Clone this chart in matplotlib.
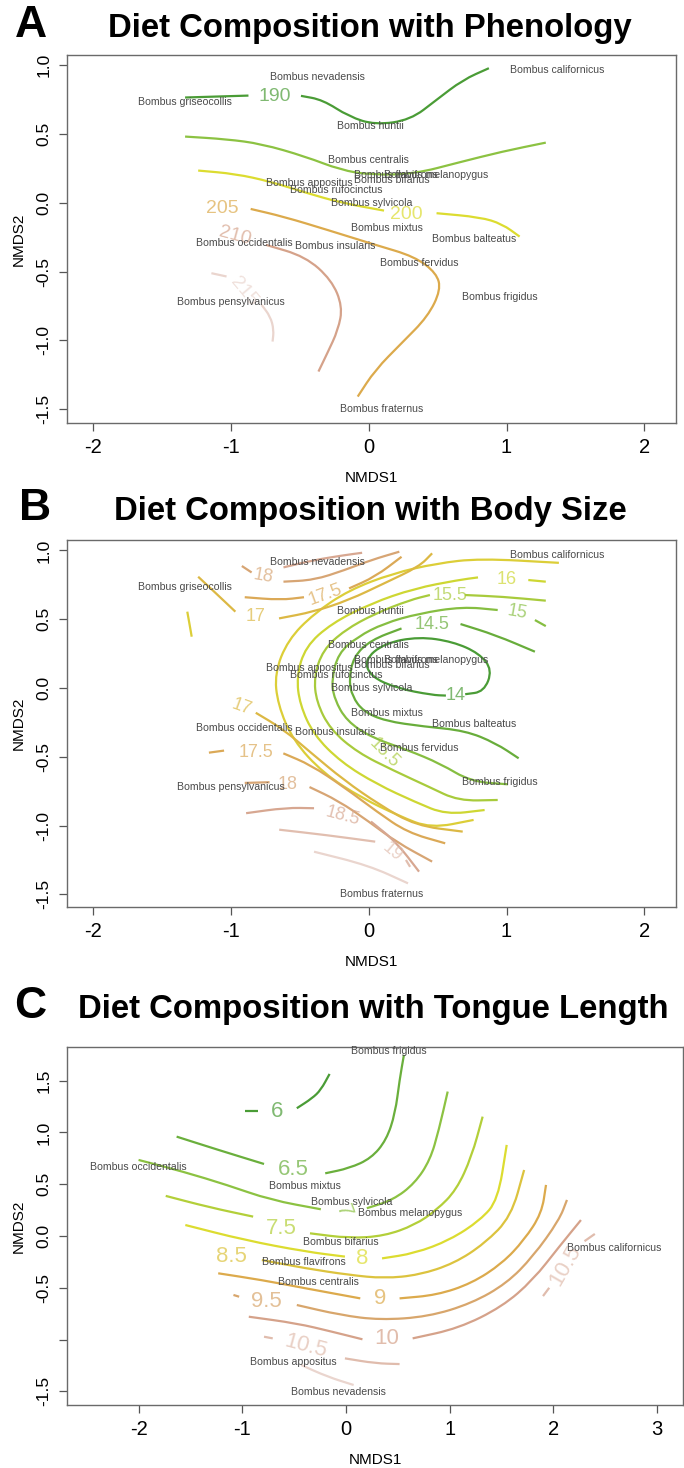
import matplotlib
matplotlib.use("Agg")
import matplotlib.pyplot as plt
from matplotlib.colors import LinearSegmentedColormap
from matplotlib.path import Path
from matplotlib.patches import PathPatch

plt.rcParams['font.family'] = ['Liberation Sans', 'DejaVu Sans']

# ---------------- species scores (NMDS) ----------------
species_AB = ["Bombus californicus", "Bombus nevadensis", "Bombus griseocollis", "Bombus huntii",
              "Bombus centralis", "Bombus flavifrons", "Bombus melanopygus", "Bombus appositus",
              "Bombus bifarius", "Bombus rufocinctus", "Bombus sylvicola", "Bombus mixtus",
              "Bombus balteatus", "Bombus occidentalis", "Bombus insularis", "Bombus fervidus",
              "Bombus frigidus", "Bombus pensylvanicus", "Bombus fraternus"]
nmds1_AB = [1.365, -0.375, -1.333, 0.012, -0.005, 0.20, 0.49, -0.429, 0.17, -0.238, 0.023, 0.134,
            0.762, -0.905, -0.247, 0.365, 0.952, -1.003, 0.092]
nmds2_AB = [0.967, 0.918, 0.732, 0.560, 0.313, 0.205, 0.205, 0.148, 0.167, 0.094, -0.002, -0.184,
            -0.264, -0.293, -0.317, -0.434, -0.681, -0.717, -1.50]

species_C = ["Bombus frigidus", "Bombus occidentalis", "Bombus mixtus", "Bombus sylvicola",
             "Bombus melanopygus", "Bombus bifarius", "Bombus californicus", "Bombus flavifrons",
             "Bombus centralis", "Bombus appositus", "Bombus nevadensis"]
nmds1_C = [0.411, -2.0, -0.398, 0.053, 0.622, -0.052, 2.582, -0.41, -0.263, -0.508, -0.073]
nmds2_C = [1.789, 0.669, 0.483, 0.331, 0.225, -0.055, -0.119, -0.248, -0.441, -1.213, -1.509]

# ---------------- fitted surface contours ----------------
levels_A = [190, 195, 200, 205, 210, 215]
contours_A = [
    (190, [-1.333, -0.873], [0.766, 0.780]),
    (190, [-0.492, -0.334, -0.143, 0.047, 0.302, 0.492, 0.682, 0.872],
          [0.778, 0.749, 0.627, 0.567, 0.603, 0.749, 0.894, 0.979]),
    (195, [-1.333, -1.031, -0.778, -0.46, -0.206, 0.016, 0.333, 0.650, 0.968, 1.285],
          [0.482, 0.463, 0.429, 0.337, 0.240, 0.203, 0.211, 0.293, 0.373, 0.438]),
    (200, [-1.238, -0.968, -0.714, -0.46, -0.206, 0.111],
          [0.235, 0.211, 0.155, 0.075, 0.002, -0.056]),
    (200, [0.492, 0.809, 0.968, 1.095], [-0.075, -0.104, -0.153, -0.245]),
    (205, [-0.857, -0.619, -0.301, 0.047, 0.333, 0.492, 0.523, 0.429, 0.238, 0.047, -0.08],
          [-0.044, -0.100, -0.196, -0.305, -0.390, -0.511, -0.632, -0.826, -1.020, -1.214, -1.408]),
    (210, [-0.746, -0.46, -0.270, -0.190, -0.222, -0.301, -0.365],
          [-0.305, -0.390, -0.560, -0.753, -0.923, -1.093, -1.226]),
    (215, [-1.142, -1.032], [-0.511, -0.535]),
    (215, [-0.778, -0.714, -0.689, -0.698], [-0.741, -0.826, -0.923, -1.008]),
]
labels_A = [("190", -0.683, 0.773, 0), ("205", -1.063, -0.039, 0), ("210", -0.968, -0.24, -15),
            ("200", 0.27, -0.087, 0), ("215", -0.905, -0.645, -50)]

levels_B = [14, 14.5, 15, 15.5, 16, 16.5, 17, 17.5, 18, 18.5, 19, 19.5]
contours_B = [
    (14, [0.70, 0.836, 0.897, 0.802, 0.610, 0.365, 0.112, -0.032, 0.016, 0.206, 0.460, 0.56],
         [-0.045, -0.027, 0.131, 0.252, 0.337, 0.373, 0.325, 0.204, 0.082, -0.002, -0.051, -0.055]),
    (14.5, [0.666, 0.92, 1.206], [0.465, 0.385, 0.264]),
    (14.5, [0.238, 0.016, -0.111, -0.143, -0.12, -0.04, 0.12, 0.40, 0.70, 0.92, 1.088],
           [0.433, 0.349, 0.228, 0.058, -0.06, -0.17, -0.24, -0.28, -0.31, -0.40, -0.511]),
    (15, [1.206, 1.285], [0.494, 0.45]),
    (15, [0.936, 0.682, 0.365, 0.11, -0.08, -0.222, -0.27, -0.25, -0.16, 0.02, 0.28, 0.52, 0.74, 1.01],
         [0.567, 0.591, 0.542, 0.47, 0.373, 0.252, 0.058, -0.08, -0.24, -0.36, -0.45, -0.55, -0.68, -0.70]),
    (15.5, [0.698, 0.968, 1.285], [0.676, 0.664, 0.635]),
    (15.5, [0.444, 0.3, 0.047, -0.175, -0.333, -0.397, -0.38, -0.28, -0.08, 0.18, 0.44, 0.65, 0.936],
           [0.676, 0.64, 0.542, 0.421, 0.276, 0.082, -0.1, -0.30, -0.47, -0.60, -0.72, -0.82, -0.814]),
    (16, [1.158, 1.285], [0.785, 0.773]),
    (16, [0.793, 0.65, 0.333, 0.016, -0.27, -0.46, -0.524, -0.50, -0.40, -0.20, 0.06, 0.34, 0.56, 0.841],
         [0.804, 0.785, 0.724, 0.615, 0.47, 0.30, 0.082, -0.12, -0.34, -0.54, -0.70, -0.83, -0.92, -0.887]),
    (16.5, [1.38, 0.809, 0.492, 0.174, -0.143, -0.397, -0.587, -0.683, -0.66, -0.55, -0.33, -0.05, 0.22, 0.45, 0.761],
           [0.91, 0.942, 0.906, 0.833, 0.712, 0.542, 0.349, 0.107, -0.12, -0.38, -0.62, -0.80, -0.93, -1.02, -0.959]),
    (16.5, [-1.317, -1.30, -1.285], [0.555, 0.46, 0.373]),
    (17, [-1.238, -1.10, -0.968], [0.809, 0.68, 0.555]),
    (17, [-0.651, -0.397, -0.143, 0.11, 0.365, 0.46], [0.506, 0.555, 0.64, 0.76, 0.882, 0.979]),
    (17, [-0.82, -0.62, -0.42, -0.18, 0.08, 0.34, 0.682], [-0.18, -0.30, -0.47, -0.67, -0.85, -1.0, -1.044]),
    (17.5, [-0.90, -0.64, -0.47], [0.66, 0.64, 0.66]),
    (17.5, [-0.143, 0.047, 0.238], [0.724, 0.809, 0.954]),
    (17.5, [-1.16, -1.05], [-0.47, -0.455]),
    (17.5, [-0.62, -0.42, -0.18, 0.06, 0.28, 0.555], [-0.475, -0.56, -0.72, -0.90, -1.05, -1.129]),
    (18, [-0.921, -0.85], [0.887, 0.84]),
    (18, [-0.619, -0.397, -0.175, 0.016, 0.222], [0.773, 0.785, 0.857, 0.93, 0.991]),
    (18, [-0.90, -0.72], [-0.69, -0.685]),
    (18, [-0.43, -0.22, 0.0, 0.2, 0.46], [-0.72, -0.82, -0.97, -1.12, -1.262]),
    (18.5, [-0.619, -0.397, -0.175, -0.048], [0.877, 0.93, 0.966, 0.983]),
    (18.5, [-0.89, -0.60, -0.397], [-0.91, -0.87, -0.874]),
    (18.5, [0.016, 0.2, 0.365], [-0.971, -1.12, -1.335]),
    (19, [-0.65, -0.3, 0.047], [-1.03, -1.07, -1.117]),
    (19, [0.27, 0.30], [-1.25, -1.30]),
    (19.5, [-0.397, 0.0, 0.285], [-1.19, -1.29, -1.42]),
]
labels_B = [("14", 0.634, -0.051, 0), ("14.5", 0.46, 0.465, 0), ("15", 1.079, 0.547, -10),
            ("15.5", 0.587, 0.676, 0), ("16", 1.0, 0.79, 0), ("17", -0.825, 0.518, 0),
            ("17", -0.92, -0.136, -20), ("17.5", -0.318, 0.676, 20), ("17.5", -0.82, -0.47, 0),
            ("18", -0.762, 0.809, -10), ("18", -0.587, -0.705, 0), ("18.5", -0.19, -0.935, -15),
            ("19", 0.174, -1.19, -40), ("15.5", 0.11, -0.475, -45)]

levels_C = [6, 6.5, 7, 7.5, 8, 8.5, 9, 9.5, 10, 10.5, 11]
contours_C = [
    (6, [-0.971, -0.853], [1.210, 1.210]),
    (6, [-0.474, -0.326, -0.242, -0.158], [1.233, 1.329, 1.410, 1.564]),
    (6.5, [-1.633, -1.232, -0.790], [0.959, 0.831, 0.695]),
    (6.5, [-0.200, 0.032, 0.243, 0.390, 0.475, 0.517, 0.559], [0.605, 0.654, 0.750, 0.927, 1.185, 1.506, 1.748]),
    (7, [-2.0, -1.570, -1.148, -0.727, -0.242], [0.734, 0.621, 0.493, 0.348, 0.258]),
    (7, [0.201, 0.454, 0.664, 0.812, 0.896, 0.981], [0.268, 0.348, 0.509, 0.734, 1.024, 1.394]),
    (7.5, [-1.738, -1.317, -0.895], [0.387, 0.277, 0.187]),
    (7.5, [-0.347, 0.032, 0.369, 0.664, 0.875, 1.065, 1.212, 1.318], [0.026, -0.022, 0.0, 0.106, 0.251, 0.444, 0.766, 1.152]),
    (8, [-1.549, -0.979, -0.389, -0.010], [0.106, -0.039, -0.151, -0.199]),
    (8, [0.348, 0.664, 1.002, 1.297, 1.465, 1.550], [-0.216, -0.167, -0.039, 0.154, 0.348, 0.879]),
    (8.5, [-0.811, -0.389, 0.032, 0.369, 0.706, 1.044, 1.339, 1.592, 1.718], [-0.232, -0.312, -0.376, -0.409, -0.376, -0.264, -0.071, 0.187, 0.637]),
    (9, [-1.232, -0.811, -0.389, 0.138], [-0.360, -0.425, -0.505, -0.602]),
    (9, [0.517, 0.875, 1.212, 1.507, 1.718, 1.887, 1.929], [-0.602, -0.570, -0.457, -0.264, -0.039, 0.219, 0.493]),
    (9.5, [-1.085, -1.030], [-0.569, -0.586]),
    (9.5, [-0.474, -0.052, 0.327, 0.791, 1.212, 1.550, 1.803, 2.056, 2.131], [-0.666, -0.763, -0.811, -0.779, -0.650, -0.457, -0.199, 0.154, 0.348]),
    (10, [-0.937, -0.474, -0.136, 0.159], [-0.779, -0.843, -0.923, -0.997]),
    (10, [0.643, 1.086, 1.507, 1.803, 2.056, 2.266], [-0.988, -0.891, -0.682, -0.425, -0.103, 0.154]),
    (10.5, [-0.790, -0.706], [-0.972, -0.988]),
    (10.5, [-0.010, 0.285, 0.517], [-1.181, -1.229, -1.236]),
    (10.5, [1.90, 1.96], [-0.58, -0.50]),
    (10.5, [2.30, 2.40], [-0.05, 0.02]),
    (11, [-0.432, -0.179, 0.074], [-1.245, -1.358, -1.438]),
]
labels_C = [("6", -0.663, 1.201, 0), ("6.5", -0.507, 0.637, 0), ("7", -0.03, 0.24, -70),
            ("7.5", -0.621, 0.074, 0), ("8", 0.159, -0.216, 0), ("8.5", -1.106, -0.199, 0),
            ("9", 0.327, -0.602, 0), ("9.5", -0.769, -0.634, 0), ("10", 0.390, -0.988, 0),
            ("10.5", -0.389, -1.068, -15), ("10.5", 2.12, -0.28, 60)]

# ---------------- panel settings ----------------
titles = ["Diet Composition with Phenology", "Diet Composition with Body Size",
          "Diet Composition with Tongue Length"]
letters = ["A", "B", "C"]
xticks_AB = [-2, -1, 0, 1, 2]
xticks_C = [-2, -1, 0, 1, 2, 3]
yticks_AB = [-1.5, -1.0, -0.5, 0.0, 0.5, 1.0]
yticks_C = [-1.5, -1.0, -0.5, 0.0, 0.5, 1.0, 1.5]
ytlabels_AB = ["-1.5", "-1.0", "-0.5", "0.0", "0.5", "1.0"]
ytlabels_C = ["-1.5", "", "-0.5", "0.0", "0.5", "1.0", "1.5"]

W, H = 684, 1468
fig = plt.figure(figsize=(W / 100, H / 100), dpi=100)

pal = LinearSegmentedColormap.from_list(
    "terr", ["#4a9c36", "#8cc242", "#dcdc30", "#dcaa4c", "#d5a28a", "#ead5ce"])


def px_axes(left, right, top, bottom):
    return fig.add_axes([left / W, 1 - bottom / H, (right - left) / W, (bottom - top) / H])


def smooth_path(xs, ys):
    pts = list(zip(xs, ys))
    if len(pts) < 3:
        return Path(pts)
    verts = [pts[0], ((pts[0][0] + pts[1][0]) / 2, (pts[0][1] + pts[1][1]) / 2)]
    codes = [Path.MOVETO, Path.LINETO]
    for i in range(1, len(pts) - 1):
        mid = ((pts[i][0] + pts[i + 1][0]) / 2, (pts[i][1] + pts[i + 1][1]) / 2)
        verts += [pts[i], mid]
        codes += [Path.CURVE3, Path.CURVE3]
    verts.append(pts[-1])
    codes.append(Path.LINETO)
    return Path(verts, codes)


def draw_panel(ax, levels, contours, labels, names, sx, sy, xlim, ylim, xt, yt, ytl,
               lab_fs, title, letter, title_y, letter_x, cx):
    n = len(levels)
    colmap = {lv: pal(i / (n - 1)) for i, lv in enumerate(levels)}
    for lv, xs, ys in contours:
        ax.add_patch(PathPatch(smooth_path(xs, ys), facecolor='none', edgecolor=colmap[lv],
                               lw=1.6, capstyle='butt', zorder=2))
    for txt, x, y, rot in labels:
        ax.text(x, y, txt, color=colmap[float(txt)], alpha=0.7, fontsize=lab_fs,
                rotation=rot, ha='center', va='center', zorder=3)
    for name, x, y in zip(names, sx, sy):
        ax.text(x, y, name, fontsize=7.6, color='#4a4a4a', ha='center', va='center', zorder=4)
    ax.set_xlim(*xlim)
    ax.set_ylim(*ylim)
    ax.set_xticks(xt)
    ax.set_xticklabels([str(v) for v in xt], fontsize=14.5)
    ax.set_yticks(yt)
    ax.set_yticklabels(ytl, fontsize=12.5, rotation=90, va='center')
    ax.tick_params(axis='x', length=6, width=0.9, color='#555555', pad=5)
    ax.tick_params(axis='y', length=6, width=0.9, color='#555555', pad=5)
    for s in ax.spines.values():
        s.set_color('#6a6a6a')
        s.set_linewidth(1.0)
    ax.set_xlabel("NMDS1", fontsize=11, labelpad=10)
    ax.set_ylabel("NMDS2", fontsize=11, labelpad=8)
    fig.text(cx / W, 1 - title_y / H, title, fontsize=23.7, fontweight='bold',
             ha='center', va='baseline')
    fig.text(letter_x / W, 1 - title_y / H, letter, fontsize=32, fontweight='bold',
             ha='center', va='baseline')


axA = px_axes(67, 676, 55, 423)
draw_panel(axA, levels_A, contours_A, labels_A, species_AB, nmds1_AB, nmds2_AB,
           (-2.19, 2.23), (-1.60, 1.075), xticks_AB, yticks_AB, ytlabels_AB, 14,
           titles[0], letters[0], 37, 31, 370)

axB = px_axes(67, 676, 540, 907)
draw_panel(axB, levels_B, contours_B, labels_B, species_AB, nmds1_AB, nmds2_AB,
           (-2.19, 2.23), (-1.592, 1.076), xticks_AB, yticks_AB, ytlabels_AB, 13,
           titles[1], letters[1], 520, 35, 370)

axC = px_axes(67, 683, 1047, 1405)
draw_panel(axC, levels_C, contours_C, labels_C, species_C, nmds1_C, nmds2_C,
           (-2.69, 3.25), (-1.631, 1.824), xticks_C, yticks_C, ytlabels_C, 16,
           titles[2], letters[2], 1018, 30, 373)

fig.savefig("out.png", dpi=100)
